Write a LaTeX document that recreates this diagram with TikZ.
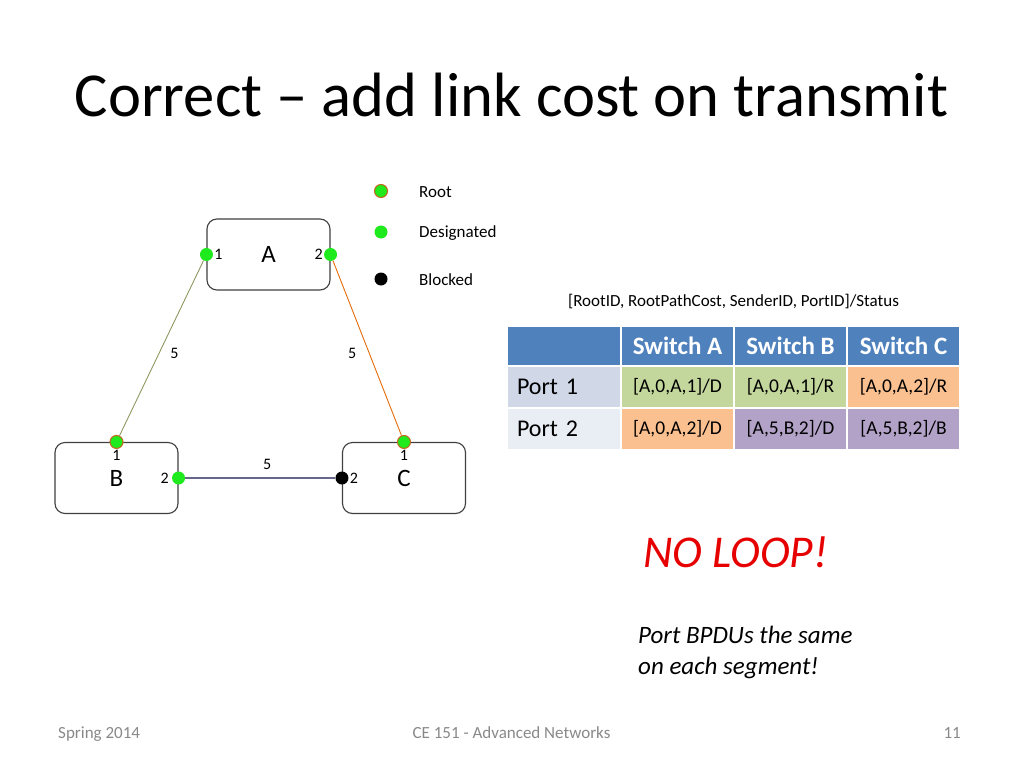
\documentclass[tikz,border=0pt]{standalone}
\usepackage{fontspec}
\setmainfont{Carlito}
\usepackage{tikz}
\definecolor{portgreen}{HTML}{1EEA1E}
\definecolor{rootrim}{HTML}{C5651B}
\definecolor{linkolive}{HTML}{8C9A62}
\definecolor{linkorange}{HTML}{E46C0A}
\definecolor{linkgray}{HTML}{66688A}
\definecolor{hdrblue}{HTML}{4F81BD}
\definecolor{rowone}{HTML}{D0D8E8}
\definecolor{rowtwo}{HTML}{E9EDF4}
\definecolor{cellgreen}{HTML}{C3D69B}
\definecolor{cellorange}{HTML}{FAC090}
\definecolor{cellpurple}{HTML}{B3A2C7}
\definecolor{footgray}{HTML}{898989}
\definecolor{loopred}{HTML}{E60000}

\begin{document}
\begin{tikzpicture}[x=1pt,y=-1pt]
\tikzstyle{switch}=[draw=black!75,line width=1.1pt,rounded corners=10pt,minimum width=123pt,minimum height=71pt,font=\fontsize{25}{30}\selectfont]
\tikzstyle{desig}=[circle,fill=portgreen,minimum size=13pt,inner sep=0]
\tikzstyle{root}=[desig,draw=rootrim,line width=1pt]
\tikzstyle{blocked}=[circle,fill=black,minimum size=13pt,inner sep=0]
\tikzstyle{plbl}=[inner sep=1pt,text=black,font=\fontsize{16}{19}\selectfont]
\tikzstyle{legend}=[anchor=base west,inner sep=0,font=\fontsize{17}{20}\selectfont]
\tikzstyle{cell}=[minimum width=111pt,minimum height=40pt,inner sep=0,font=\fontsize{19.5}{23}\selectfont]
\tikzstyle{head}=[cell,fill=hdrblue,minimum height=38pt,text=white,font=\fontsize{25}{30}\selectfont\bfseries]
\tikzstyle{rowlbl}=[cell,minimum width=112pt,text width=94pt,align=left,font=\fontsize{24}{28}\selectfont]
\tikzstyle{foot}=[inner sep=0,text=footgray,font=\fontsize{17}{20}\selectfont]
\useasboundingbox[fill=white] (0,0) rectangle (1024,768);

% title
\node[anchor=base,inner sep=0,font=\fontsize{62.6}{75}\selectfont] (title) at (511.5,116) {Correct – add link cost on transmit};

% switches
\node[switch] (A) at (268.5,254.5) {A};
\node[switch] (B) at (116.5,478) {B};
\node[switch] (C) at (404,478) {C};

% ports
\node[desig,label={[plbl]right:1}] (a1) at (A.west) {};
\node[desig,label={[plbl]left:2}] (a2) at (A.east) {};
\node[root,label={[plbl]below:1}] (b1) at (B.north) {};
\node[desig,label={[plbl,label distance=2pt]left:2}] (b2) at (B.east) {};
\node[root,label={[plbl]below:1}] (c1) at (C.north) {};
\node[blocked,label={[plbl]right:2}] (c2) at (C.west) {};

% links
\draw[linkolive,line width=0.9pt] (a1) -- node[plbl,pos=.5,xshift=13pt,yshift=-5pt] {5} (b1);
\draw[linkorange,line width=0.9pt] (a2) -- node[plbl,pos=.5,xshift=-15pt,yshift=-5pt] {5} (c1);
\draw[linkgray,line width=1.2pt] (b2) -- node[plbl,pos=.5,xshift=7pt,yshift=14pt] {5} (c2);

% legend
\node[root] (kroot) at (381,191) {};
\node[desig] (kdes) at (381,232) {};
\node[blocked] (kblk) at (381,279) {};
\node[legend] (troot) at (419,197) {Root};
\node[legend] (tdes) at (419,237) {Designated};
\node[legend] (tblk) at (419,285) {Blocked};

% table
\node[anchor=base,inner sep=0,font=\fontsize{17}{20}\selectfont] (fmt) at (733.5,306) {[RootID, RootPathCost, SenderID, PortID]/Status};
\node[head,minimum width=112pt] (h0) at (564,346) {};
\node[head] (hA) at (677.5,346) {Switch A};
\node[head] (hB) at (790.5,346) {Switch B};
\node[head] (hC) at (903.5,346) {Switch C};
\node[rowlbl,fill=rowone] (p1) at (564,387) {Port 1};
\node[cell,fill=cellgreen] (a1s) at (677.5,387) {[A,0,A,1]/D};
\node[cell,fill=cellgreen] (b1s) at (790.5,387) {[A,0,A,1]/R};
\node[cell,fill=cellorange] (c1s) at (903.5,387) {[A,0,A,2]/R};
\node[rowlbl,fill=rowtwo] (p2) at (564,429) {Port 2};
\node[cell,fill=cellorange] (a2s) at (677.5,429) {[A,0,A,2]/D};
\node[cell,fill=cellpurple] (b2s) at (790.5,429) {[A,5,B,2]/D};
\node[cell,fill=cellpurple] (c2s) at (903.5,429) {[A,5,B,2]/B};

% notes
\node[anchor=base west,inner sep=0,text=loopred,font=\fontsize{45.5}{52}\selectfont\itshape] (noloop) at (643,567) {NO LOOP!};
\node[anchor=base west,inner sep=0,font=\fontsize{25}{31}\selectfont\itshape] (same1) at (638,643) {Port BPDUs the same};
\node[anchor=base west,inner sep=0,font=\fontsize{25}{31}\selectfont\itshape] (same2) at (638,674) {on each segment!};

% footer
\node[foot,anchor=base west] (date) at (58,738) {Spring 2014};
\node[foot,anchor=base] (course) at (511.5,738) {CE 151 - Advanced Networks};
\node[foot,anchor=base east] (page) at (961,738) {11};
\end{tikzpicture}
\end{document}
